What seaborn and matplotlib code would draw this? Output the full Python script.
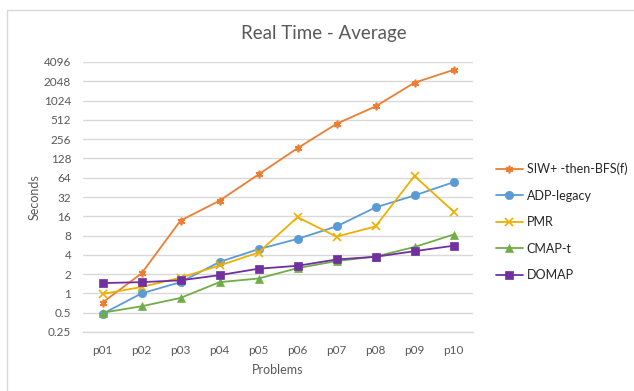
import matplotlib
matplotlib.use("Agg")
import matplotlib.pyplot as plt
import seaborn as sns
import pandas as pd
from matplotlib.ticker import FixedLocator, FixedFormatter, NullLocator
from matplotlib.patches import Rectangle

problems = ["p01", "p02", "p03", "p04", "p05", "p06", "p07", "p08", "p09", "p10"]
siw_bfs = [0.72, 2.05, 13.7, 28, 72, 185, 443, 830, 1950, 3080]
adp_legacy = [0.48, 1.0, 1.5, 3.1, 4.9, 7.1, 11.1, 22, 33.8, 54.5]
pmr = [0.98, 1.26, 1.76, 2.73, 4.35, 15.5, 7.7, 11.1, 68, 19]
cmap_t = [0.5, 0.63, 0.85, 1.5, 1.71, 2.48, 3.2, 3.77, 5.3, 8.3]
domap = [1.45, 1.5, 1.6, 1.93, 2.43, 2.7, 3.39, 3.73, 4.57, 5.55]

series_names = ["SIW+ -then-BFS(f)", "ADP-legacy", "PMR", "CMAP-t", "DOMAP"]
series_values = [siw_bfs, adp_legacy, pmr, cmap_t, domap]
y_ticks = [0.25, 0.5, 1, 2, 4, 8, 16, 32, 64, 128, 256, 512, 1024, 2048, 4096]
y_tick_labels = ["0.25", "0.5", "1", "2", "4", "8", "16", "32", "64", "128",
                 "256", "512", "1024", "2048", "4096"]

colors = ["#ED7D31", "#5B9BD5", "#EBB000", "#70AD47", "#7030A0"]
markers = [(6, 2, 0), "o", "x", "^", "s"]
msizes = [5.5, 6, 6, 6, 5.5]

sns.set_theme(style="white")
plt.rcParams["font.family"] = ["Lato", "DejaVu Sans"]

rows = []
for name, vals in zip(series_names, series_values):
    for i, v in enumerate(vals):
        rows.append({"series": name, "idx": i, "value": v})
df = pd.DataFrame(rows)

fig = plt.figure(figsize=(6.34, 3.91), dpi=100)
ax = fig.add_axes([83 / 634, 1 - 332 / 391, 390 / 634, 270 / 391])

# chart-area frame
fig.patches.append(Rectangle((7 / 634, -0.05), 1.0, 1 - 9.5 / 391 + 0.05,
                             transform=fig.transFigure, fill=False,
                             edgecolor="#D9D9D9", linewidth=1.0, zorder=0))

for name, col, mk, ms in zip(series_names, colors, markers, msizes):
    sub = df[df["series"] == name]
    sns.lineplot(data=sub, x="idx", y="value", ax=ax, color=col, marker=mk,
                 markersize=ms, linewidth=1.3, markeredgecolor=col,
                 markeredgewidth=1.2 if mk in ("x",) or isinstance(mk, tuple) else 0.5,
                 label=name, sort=False, errorbar=None)

ax.set_yscale("log", base=2)
ax.set_ylim(0.25, 4096)
ax.set_xlim(-0.5, 9.5)
ax.yaxis.set_major_locator(FixedLocator(y_ticks))
ax.yaxis.set_major_formatter(FixedFormatter(y_tick_labels))
ax.yaxis.set_minor_locator(NullLocator())
ax.set_xticks(range(len(problems)))
ax.set_xticklabels(problems)

ax.grid(axis="y", color="#D9D9D9", linewidth=1.0)
ax.set_axisbelow(True)
for s in ["top", "right", "left"]:
    ax.spines[s].set_visible(False)
ax.spines["bottom"].set_color("#D9D9D9")
ax.spines["bottom"].set_linewidth(1.0)
ax.tick_params(axis="both", length=0, labelsize=8.5, labelcolor="#595959")
ax.tick_params(axis="y", pad=8.5)
ax.tick_params(axis="x", pad=9)

ax.set_xlabel("Problems", fontsize=9, color="#595959", labelpad=6)
ax.set_ylabel("")
fig.text(35 / 634, 1 - 197 / 391, "Seconds", rotation=90, fontsize=9,
         color="#595959", ha="center", va="center")
fig.text(324 / 634, 1 - 33 / 391, "Real Time - Average", fontsize=13.5,
         color="#595959", ha="center", va="center")

leg = ax.legend(loc="upper left", bbox_to_anchor=(1.045, 0.645), frameon=False,
                fontsize=9, handlelength=2.2, labelspacing=1.15, handletextpad=0.3,
                borderaxespad=0)
for t in leg.get_texts():
    t.set_color("#262626")

fig.savefig("out.png", dpi=100)
